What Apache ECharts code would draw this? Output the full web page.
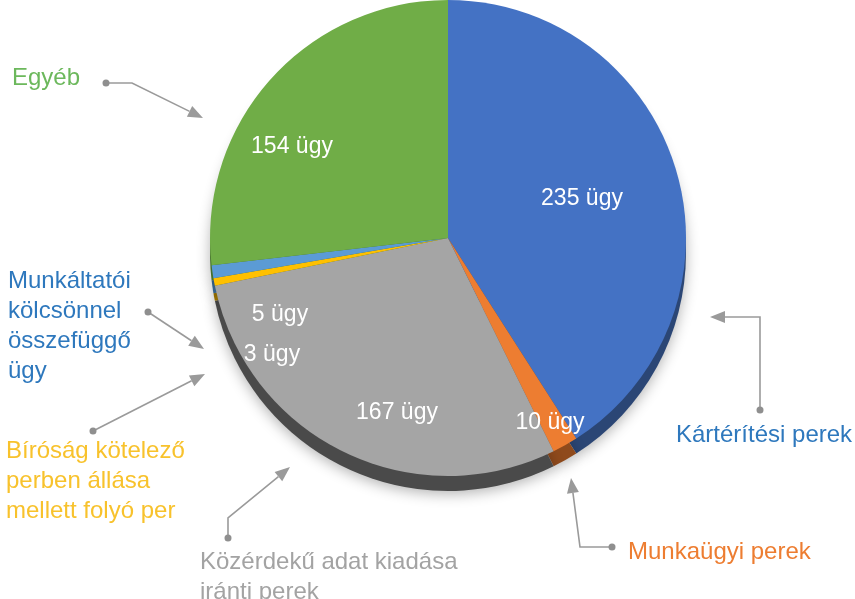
<!DOCTYPE html>
<html>
<head>
<meta charset="utf-8">
<script src="https://cdn.jsdelivr.net/npm/echarts@6/dist/echarts.min.js"></script>
<style>
  html, body { margin: 0; padding: 0; background: #fff; }
  #chart { width: 855px; height: 599px; }
</style>
</head>
<body>
<div id="chart"></div>
<script>
// kategóriák és értékek (óramutató járása szerint, felülről)
const categories = [
  'Kártérítési perek',
  'Munkaügyi perek',
  'Közérdekű adat kiadása iránti perek',
  'Bíróság kötelező perben állása mellett folyó per',
  'Munkáltatói kölcsönnel összefüggő ügy',
  'Egyéb'
]
const values = [235, 10, 167, 3, 5, 154]
const unit = ' ügy'

// színek
const colors = ['#4472c4', '#ed7d31', '#a5a5a5', '#ffc000', '#5b9bd5', '#70ad47']
const rimColors = ['#2b4675', '#8f4a1c', '#4a4a4a', '#9c7400', '#36648f', '#44702c']
const labelColors = ['#2e78bd', '#ed7d31', '#a3a3a3', '#f8c22c', '#2e78bd', '#6cb85c']

// belső feliratok helye
const innerLabelPos = [[582, 199], [550, 423], [397, 413], [272, 355], [280, 315], [292, 147]]
// külső feliratok: bal-felső sarok, sortörés a megadott szavak után
const outerLabels = [
  { x: 676, y: 420, breaks: [] },
  { x: 628, y: 537, breaks: [] },
  { x: 200, y: 547, breaks: [3] },
  { x: 6, y: 436, breaks: [2, 4] },
  { x: 8, y: 266, breaks: [1, 2, 3] },
  { x: 12, y: 63, breaks: [] }
]
// nyilak (pont -> hegy)
const arrows = [
  [[760, 410], [760, 317], [710, 317]],
  [[612, 547], [580, 547], [571, 478]],
  [[228, 538], [228, 518], [290, 467]],
  [[93, 431], [205, 374]],
  [[148, 312], [204, 349]],
  [[106, 83], [132, 83], [203, 118]]
]

const FONT = '"Liberation Sans", Arial, sans-serif'
const chart = echarts.init(document.getElementById('chart'))

function wrapName(name, breaks) {
  return name.split(' ').reduce((s, w, i) => {
    if (i === 0) return w
    return s + (breaks.includes(i) ? '\n' : ' ') + w
  }, '')
}

function arrowGraphic(pts) {
  const n = pts.length
  const [x1, y1] = pts[n - 2]
  const [x2, y2] = pts[n - 1]
  const len = Math.hypot(x2 - x1, y2 - y1)
  const ux = (x2 - x1) / len
  const uy = (y2 - y1) / len
  const hl = 15
  const hw = 6
  const bx = x2 - ux * hl
  const by = y2 - uy * hl
  const line = pts.slice(0, n - 1).concat([[bx, by]])
  return [
    {
      type: 'polyline',
      shape: { points: line },
      style: { stroke: '#9a9a9a', lineWidth: 1.6, fill: null },
      silent: true
    },
    {
      type: 'circle',
      shape: { cx: pts[0][0], cy: pts[0][1], r: 3.5 },
      style: { fill: '#8f8f8f' },
      silent: true
    },
    {
      type: 'polygon',
      shape: { points: [[x2, y2], [bx - uy * hw, by + ux * hw], [bx + uy * hw, by - ux * hw]] },
      style: { fill: '#9a9a9a' },
      silent: true
    }
  ]
}

const graphics = []
arrows.forEach(a => graphics.push(...arrowGraphic(a)))
categories.forEach((name, i) => {
  const o = outerLabels[i]
  graphics.push({
    type: 'text',
    x: o.x,
    y: o.y,
    silent: true,
    style: {
      text: wrapName(name, o.breaks),
      fill: labelColors[i],
      font: '24px ' + FONT,
      lineHeight: 30,
      align: 'left',
      verticalAlign: 'top'
    }
  })
})

const seriesData = categories.map((name, i) => ({
  name,
  value: values[i],
  itemStyle: { color: colors[i] }
}))
const rimData = categories.map((name, i) => ({
  name,
  value: values[i],
  itemStyle: { color: rimColors[i] }
}))

chart.setOption({
  animation: false,
  graphic: graphics,
  series: [
    {
      // 3D hatású perem
      type: 'pie',
      center: [448, 253],
      radius: 238,
      startAngle: 90,
      silent: true,
      label: { show: false },
      labelLine: { show: false },
      itemStyle: {
        shadowBlur: 14,
        shadowColor: 'rgba(0,0,0,0.3)',
        shadowOffsetY: 3
      },
      data: rimData,
      z: 1
    },
    {
      type: 'pie',
      center: [448, 238],
      radius: 238,
      startAngle: 90,
      avoidLabelOverlap: false,
      silent: true,
      label: {
        show: true,
        position: 'inside',
        formatter: p => p.value + unit,
        color: '#fff',
        fontSize: 23,
        fontFamily: FONT
      },
      labelLine: { show: false },
      labelLayout: p => ({
        x: innerLabelPos[p.dataIndex][0],
        y: innerLabelPos[p.dataIndex][1],
        align: 'center',
        verticalAlign: 'middle'
      }),
      data: seriesData,
      z: 2
    }
  ]
})
</script>
</body>
</html>
